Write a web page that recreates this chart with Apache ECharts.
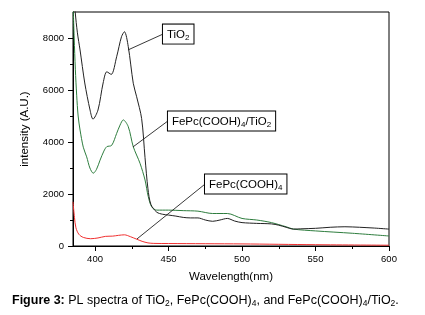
<!DOCTYPE html>
<html>
<head>
<meta charset="utf-8">
<script src="https://cdn.jsdelivr.net/npm/echarts@6/dist/echarts.min.js"></script>
<style>
  html, body { margin: 0; padding: 0; background: #fff; }
  #chart { width: 425px; height: 315px; }
</style>
</head>
<body>
<div id="chart"></div>
<script>
// PL spectra, wavelength (nm) vs intensity (A.U.)
const tio2Wl = [385, 386.5, 388, 389.8, 393, 396.6, 398.6, 402, 405.5, 408, 411, 414.7, 418, 420, 422.6, 426, 428.3, 431.7, 434, 436, 438, 442, 446, 450, 455, 460, 465, 470, 475, 480, 485, 490, 495, 500, 510, 520, 525, 530, 535, 540, 550, 560, 570, 580, 590, 600]
const tio2Val = [10200, 9000, 8200, 7540, 6270, 5230, 4880, 5230, 6270, 6700, 6600, 7280, 8050, 8240, 7670, 6260, 5740, 4900, 3400, 2200, 1600, 1300, 1220, 1190, 1150, 1100, 1080, 1080, 1000, 950, 1000, 1060, 960, 900, 870, 850, 800, 720, 650, 660, 680, 720, 740, 720, 690, 650]

const compWl = [385, 385.8, 386.6, 387.5, 388.5, 389.8, 392, 394.3, 396.5, 398.8, 401, 403.4, 406, 408, 411.3, 414.7, 417, 419.2, 422.6, 426, 430.6, 434, 436.2, 438.5, 442, 450, 460, 470, 480, 490, 500, 510, 520, 530, 535, 550, 575, 600]
const compVal = [9400, 8000, 6800, 5800, 5000, 4460, 3800, 3430, 3000, 2800, 2950, 3300, 3650, 3820, 3870, 4330, 4650, 4850, 4590, 3820, 3180, 2540, 1900, 1510, 1380, 1380, 1360, 1340, 1250, 1250, 1060, 1000, 900, 740, 650, 580, 490, 385]

const fepcWl = [385, 386, 387, 389, 392, 397, 402, 407, 412, 416, 420, 424, 428, 432, 436, 440, 450, 500, 550, 600]
const fepcVal = [1700, 1100, 700, 450, 330, 280, 310, 370, 380, 410, 430, 360, 270, 180, 120, 100, 95, 80, 50, 30]

const majorX = [400, 450, 500, 550, 600]
const minorX = [425, 475, 525, 575]
const majorY = [0, 2000, 4000, 6000, 8000]
const minorY = [1000, 3000, 5000, 7000]

const pairs = (xs, ys) => xs.map((x, i) => [x, ys[i]])

// callouts: point on curve, left-middle of the box (both in data units)
const callouts = [
  { text: 'TiO{s|2}', from: [422.4, 7540], to: [446.2, 8150] },
  { text: 'FePc(COOH){s|4}/TiO{s|2}', from: [425.8, 3810], to: [449.6, 4810] },
  { text: 'FePc(COOH){s|4}', from: [428.5, 270], to: [474.8, 2380] }
]

const FONT = '"Liberation Sans", Arial, sans-serif'
const chart = echarts.init(document.getElementById('chart'), null, { renderer: 'canvas' })

const baseX = {
  type: 'value',
  min: 385,
  max: 600,
  splitLine: { show: false }
}
const baseY = {
  type: 'value',
  min: 0,
  max: 9000,
  splitLine: { show: false }
}

chart.setOption({
  animation: false,
  backgroundColor: '#fff',
  grid: {
    left: 73,
    right: 36,
    top: 12,
    bottom: 69,
    show: true,
    borderColor: '#000',
    borderWidth: 1
  },
  xAxis: [
    Object.assign({}, baseX, {
      axisLine: { lineStyle: { color: '#000', width: 1 } },
      axisTick: { length: 5, lineStyle: { color: '#000' }, customValues: majorX },
      axisLabel: { customValues: majorX, color: '#000', fontSize: 9.5, fontFamily: FONT, margin: 8 },
      name: 'Wavelength(nm)',
      nameLocation: 'middle',
      nameGap: 25,
      nameTextStyle: { color: '#000', fontSize: 11.5, fontFamily: FONT }
    }),
    Object.assign({}, baseX, {
      position: 'bottom',
      axisLine: { show: false },
      axisTick: { length: 3, lineStyle: { color: '#000' }, customValues: minorX },
      axisLabel: { show: false }
    })
  ],
  yAxis: [
    Object.assign({}, baseY, {
      axisLine: { show: true, lineStyle: { color: '#000', width: 1 } },
      axisTick: { show: true, length: 5, lineStyle: { color: '#000' }, customValues: majorY },
      axisLabel: {
        customValues: majorY,
        formatter: v => String(v),
        color: '#000',
        fontSize: 9.5,
        fontFamily: FONT,
        margin: 9
      },
      name: 'intensity (A.U.)',
      nameLocation: 'middle',
      nameGap: 42,
      nameTextStyle: { color: '#000', fontSize: 11.5, fontFamily: FONT }
    }),
    Object.assign({}, baseY, {
      position: 'left',
      axisLine: { show: false },
      axisTick: { show: true, length: 3, lineStyle: { color: '#000' }, customValues: minorY },
      axisLabel: { show: false }
    })
  ],
  series: [
    {
      name: 'TiO2',
      type: 'line',
      data: pairs(tio2Wl, tio2Val),
      smooth: 0.3,
      showSymbol: false,
      clip: true,
      lineStyle: { color: '#222', width: 1 },
      z: 3
    },
    {
      name: 'FePc(COOH)4/TiO2',
      type: 'line',
      data: pairs(compWl, compVal),
      smooth: 0.3,
      showSymbol: false,
      clip: true,
      lineStyle: { color: '#2e7d3e', width: 1 },
      z: 2
    },
    {
      name: 'FePc(COOH)4',
      type: 'line',
      data: pairs(fepcWl, fepcVal),
      smooth: 0.3,
      showSymbol: false,
      clip: true,
      lineStyle: { color: '#f03030', width: 1 },
      z: 1
    }
  ]
})

// callout boxes and leader lines, placed from data coordinates
const labelRich = {
  s: { fontSize: 8, fontFamily: FONT, verticalAlign: 'bottom', padding: [6, 0, 0, 0], fill: '#000' }
}
const graphics = []
callouts.forEach(c => {
  const a = chart.convertToPixel({ gridIndex: 0 }, c.from)
  const b = chart.convertToPixel({ gridIndex: 0 }, c.to)
  graphics.push({
    type: 'line',
    shape: { x1: a[0], y1: a[1], x2: b[0], y2: b[1] },
    style: { stroke: '#222', lineWidth: 0.9 },
    z: 10
  })
  graphics.push({
    type: 'text',
    x: b[0],
    y: b[1],
    style: {
      text: c.text,
      fill: '#000',
      font: '11.5px ' + FONT,
      align: 'left',
      verticalAlign: 'middle',
      backgroundColor: '#fff',
      borderColor: '#000',
      borderWidth: 1,
      padding: [3, 4, 2, 4],
      rich: labelRich
    },
    z: 11
  })
})

// figure caption
graphics.push({
  type: 'text',
  left: 12,
  top: 294,
  style: {
    text: '{b|Figure 3:} PL spectra of TiO{s|2}, FePc(COOH){s|4}, and FePc(COOH){s|4}/TiO{s|2}.',
    fill: '#000',
    font: '12.5px ' + FONT,
    rich: {
      b: { fontWeight: 'bold', fontSize: 12.5, fontFamily: FONT, fill: '#000' },
      s: { fontSize: 8.5, fontFamily: FONT, verticalAlign: 'bottom', padding: [6, 0, 0, 0], fill: '#000' }
    }
  }
})

chart.setOption({ graphic: graphics })
</script>
</body>
</html>
